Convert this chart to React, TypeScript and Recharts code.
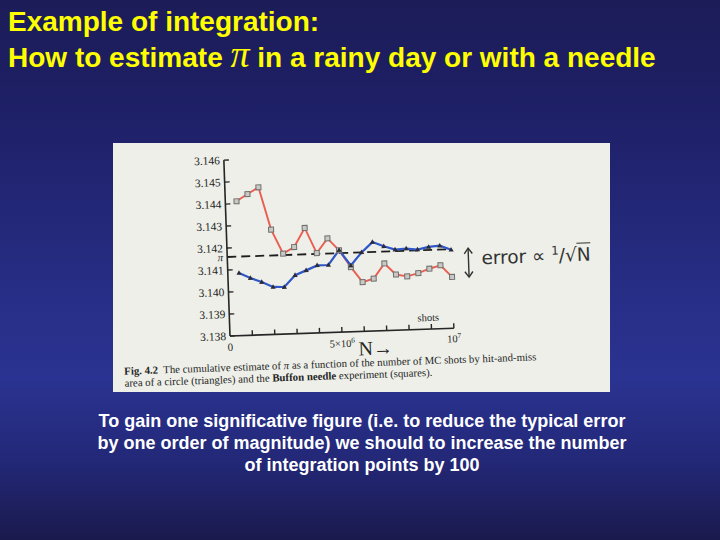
import React from "react";
import { LineChart, Line, XAxis, YAxis, ReferenceLine } from "recharts";

// shots in units of 10^6
const shots = [0.5, 1, 1.5, 2, 2.5, 3, 3.5, 4, 4.5, 5, 5.5, 6, 6.5, 7, 7.5, 8, 8.5, 9, 9.5, 10];

// Buffon needle experiment (squares)
const buffonNeedle = [
  3.14411, 3.14442, 3.14471, 3.14277, 3.14166, 3.14194, 3.14279, 3.14163, 3.14228, 3.14172,
  3.14094, 3.14024, 3.14038, 3.14105, 3.14053, 3.14043, 3.14056, 3.14074, 3.14088, 3.14033,
];

// hit-and-miss area of a circle (triangles)
const hitAndMiss = [
  3.14085, 3.1406, 3.1404, 3.14016, 3.14014, 3.14066, 3.14086, 3.14107, 3.14107, 3.14173,
  3.14101, 3.14159, 3.14204, 3.14183, 3.14166, 3.14169, 3.14163, 3.14173, 3.14177, 3.14157,
];

const PI = Math.PI;
const yTicks = [3.138, 3.139, 3.14, 3.141, PI, 3.142, 3.143, 3.144, 3.145, 3.146];
const xTicks = [0, 1, 2, 3, 4, 5, 6, 7, 8, 9, 10];

const data = shots.map((x, i) => ({ x, needle: buffonNeedle[i], hit: hitAndMiss[i] }));

const serif = "'Liberation Serif', 'DejaVu Serif', serif";
const ink = "#262626";

const YTick = (props: any) => {
  const { x, y, payload } = props;
  const isPi = Math.abs(payload.value - PI) < 1e-6;
  return (
    <g>
      {!isPi && <line x1={x + 3} x2={x + 8} y1={y} y2={y} stroke={ink} strokeWidth={1.4} />}
      <text
        x={x - 1}
        y={y}
        dy={4}
        textAnchor="end"
        fontFamily={serif}
        fontSize={isPi ? 11 : 11.5}
        fontStyle={isPi ? "italic" : "normal"}
        fill={ink}
      >
        {isPi ? "π" : payload.value.toFixed(3)}
      </text>
    </g>
  );
};

const XTick = (props: any) => {
  const { x, y, payload } = props;
  const v = payload.value;
  return (
    <g>
      {v > 0 && <line x1={x} x2={x} y1={y} y2={y - 5} stroke={ink} strokeWidth={1.4} />}
      {v === 0 && (
        <text x={x} y={y + 15} textAnchor="middle" fontFamily={serif} fontSize={11} fill={ink}>
          0
        </text>
      )}
      {v === 5 && (
        <text x={x} y={y + 15} textAnchor="middle" fontFamily={serif} fontSize={10.5} fill={ink}>
          5×10<tspan dy={-4} fontSize={7.5}>6</tspan>
        </text>
      )}
      {v === 10 && (
        <text x={x} y={y + 14} textAnchor="middle" fontFamily={serif} fontSize={10.5} fill={ink}>
          10<tspan dy={-4} fontSize={7.5}>7</tspan>
        </text>
      )}
    </g>
  );
};

const squareDot = (props: any) => {
  const { cx, cy, index } = props;
  return (
    <rect
      key={`sq-${index}`}
      x={cx - 2.5}
      y={cy - 2.5}
      width={5}
      height={5}
      fill="#c9c9c4"
      stroke="#6e6e6e"
      strokeWidth={1}
    />
  );
};

const triangleDot = (props: any) => {
  const { cx, cy, index } = props;
  return (
    <polygon
      key={`tr-${index}`}
      points={`${cx},${cy - 2.8} ${cx - 2.6},${cy + 1.8} ${cx + 2.6},${cy + 1.8}`}
      fill="#2b2b3a"
    />
  );
};

function PiChart() {
  return (
    <LineChart
      width={290}
      height={216}
      data={data}
      margin={{ top: 10, right: 16, bottom: 0, left: 0 }}
    >
      <XAxis
        type="number"
        dataKey="x"
        domain={[0, 10]}
        ticks={xTicks}
        tick={<XTick />}
        tickLine={false}
        tickSize={0}
        tickMargin={0}
        height={30}
        axisLine={{ stroke: ink, strokeWidth: 1.6 }}
        interval={0}
      />
      <YAxis
        type="number"
        domain={[3.138, 3.146]}
        ticks={yTicks}
        tick={<YTick />}
        tickLine={false}
        tickSize={0}
        tickMargin={3}
        width={50}
        axisLine={{ stroke: ink, strokeWidth: 1.6 }}
        interval={0}
        allowDataOverflow
      />
      <ReferenceLine y={PI} stroke="#1e1e1e" strokeWidth={1.8} strokeDasharray="9 5" />
      <Line
        dataKey="needle"
        stroke="#ea5e52"
        strokeWidth={1.9}
        dot={squareDot}
        isAnimationActive={false}
      />
      <Line
        dataKey="hit"
        stroke="#3057c8"
        strokeWidth={2.2}
        dot={triangleDot}
        isAnimationActive={false}
      />
    </LineChart>
  );
}

export default function App() {
  const sans = "'Liberation Sans', Arial, sans-serif";
  return (
    <div
      style={{
        position: "absolute",
        left: 0,
        top: 0,
        width: 720,
        height: 540,
        overflow: "hidden",
        background:
          "linear-gradient(to bottom, #1c1c58 0%, #1f216a 25%, #272e86 55%, #2a3391 70%, #232878 85%, #1a1a4d 100%)",
        fontFamily: sans,
      }}
    >
      <div
        style={{
          position: "absolute",
          left: 8,
          top: 5,
          color: "#ffff00",
          fontWeight: "bold",
          fontSize: 28,
          lineHeight: "33px",
          whiteSpace: "nowrap",
        }}
      >
        <div>Example of integration:</div>
        <div>
          How to estimate{" "}
          <span style={{ fontFamily: serif, fontStyle: "italic", fontWeight: "normal", fontSize: 38 }}>π</span>{" "}
          in a rainy day or with a needle
        </div>
      </div>

      <div
        style={{
          position: "absolute",
          left: 113,
          top: 143,
          width: 497,
          height: 249,
          background: "#edefe8",
          overflow: "hidden",
        }}
      >
        <div
          style={{
            position: "absolute",
            left: 0,
            top: 0,
            width: 497,
            height: 249,
            transform: "rotate(-2deg)",
            transformOrigin: "117px 193px",
          }}
        >
          <div style={{ position: "absolute", left: 67, top: 7 }}>
            <PiChart />
          </div>
          <div
            style={{
              position: "absolute",
              left: 305,
              top: 176,
              fontFamily: serif,
              fontSize: 10.5,
              color: ink,
            }}
          >
            shots
          </div>
          <div
            style={{
              position: "absolute",
              left: 245,
              top: 199,
              fontFamily: serif,
              fontSize: 20,
              color: ink,
              whiteSpace: "nowrap",
            }}
          >
            N→
          </div>
          <svg
            style={{ position: "absolute", left: 352, top: 112 }}
            width={12}
            height={32}
          >
            <line x1={6} x2={6} y1={2} y2={30} stroke="#333" strokeWidth={1.4} />
            <path d="M2,7 L6,1.5 L10,7" fill="none" stroke="#333" strokeWidth={1.4} />
            <path d="M2,25 L6,30.5 L10,25" fill="none" stroke="#333" strokeWidth={1.4} />
          </svg>
          <div
            style={{
              position: "absolute",
              left: 371,
              top: 112,
              fontFamily: "'DejaVu Sans', sans-serif",
              fontSize: 18.5,
              color: "#333",
              whiteSpace: "nowrap",
            }}
          >
            error ∝ <sup style={{ fontSize: 12 }}>1</sup>/√<span style={{ textDecoration: "overline" }}>N</span>
          </div>
          <div
            style={{
              position: "absolute",
              left: 10,
              top: 218,
              fontFamily: serif,
              fontSize: 10.8,
              lineHeight: "12px",
              color: ink,
              whiteSpace: "nowrap",
            }}
          >
            <div>
              <b>Fig. 4.2</b>&nbsp; The cumulative estimate of <i>π</i> as a function of the number of MC shots by
              hit-and-miss
            </div>
            <div>
              area of a circle (triangles) and the <b>Buffon needle</b> experiment (squares).
            </div>
          </div>
        </div>
      </div>

      <div
        style={{
          position: "absolute",
          left: 0,
          top: 410,
          width: 724,
          textAlign: "center",
          color: "#ffffff",
          fontWeight: "bold",
          fontSize: 18,
          lineHeight: "22px",
        }}
      >
        <div>To gain one significative figure (i.e. to reduce the typical error</div>
        <div>by one order of magnitude) we should to increase the number</div>
        <div>of integration points by 100</div>
      </div>
    </div>
  );
}
